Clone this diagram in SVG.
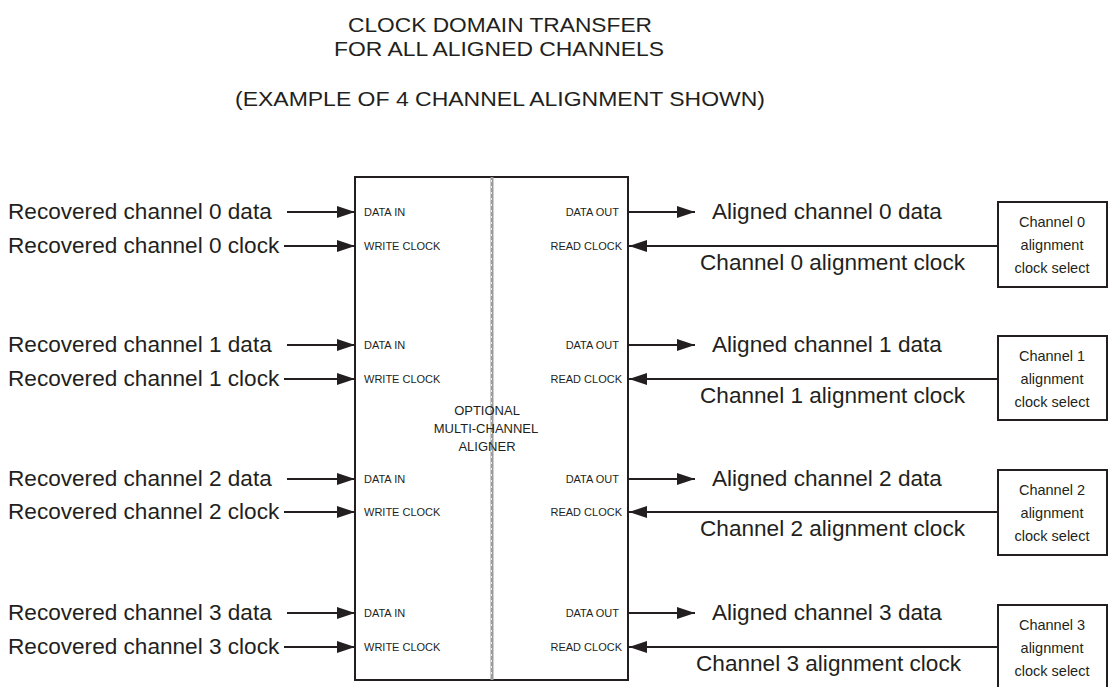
<svg xmlns="http://www.w3.org/2000/svg" width="1108" height="687" viewBox="0 0 1108 687">
<defs>
<style>
text{font-family:"Liberation Sans",Arial,sans-serif;fill:#231f20}
.t{font-size:20px;text-anchor:middle}
.lbl{font-size:22.6px}
.port{font-size:11px}
.sel{font-size:14.5px;text-anchor:middle}
.mid{font-size:13px;text-anchor:middle}
.ln{stroke:#231f20;stroke-width:2;fill:none}
.box{stroke:#231f20;stroke-width:2;fill:#fff}
</style>
<marker id="ah" markerWidth="18" markerHeight="12" refX="18" refY="6" orient="auto" markerUnits="userSpaceOnUse">
<path d="M0,0 L18,6 L0,12 Z" fill="#231f20"/>
</marker>
</defs>
<rect width="1108" height="687" fill="#fff"/>
<g id="title">
<text class="t" x="500" y="32" textLength="304" lengthAdjust="spacingAndGlyphs">CLOCK DOMAIN TRANSFER</text>
<text class="t" x="499" y="56" textLength="330" lengthAdjust="spacingAndGlyphs">FOR ALL ALIGNED CHANNELS</text>
<text class="t" x="500" y="106" textLength="530" lengthAdjust="spacingAndGlyphs">(EXAMPLE OF 4 CHANNEL ALIGNMENT SHOWN)</text>
</g>
<g id="aligner">
<rect class="box" x="355" y="177" width="273" height="503"/>
<line x1="492" y1="177" x2="492" y2="680" stroke="#9b9b9b" stroke-width="3"/>
<line x1="491.5" y1="180" x2="491.5" y2="678" stroke="#fff" stroke-width="0.8" stroke-dasharray="2 4"/>
<text class="mid" x="487" y="415">OPTIONAL</text>
<text class="mid" x="486" y="433">MULTI-CHANNEL</text>
<text class="mid" x="487" y="451">ALIGNER</text>
<g class="port">
<text x="364" y="216">DATA IN</text><text x="364" y="250">WRITE CLOCK</text>
<text x="619" y="216" text-anchor="end">DATA OUT</text><text x="622" y="250" text-anchor="end">READ CLOCK</text>
<text x="364" y="349">DATA IN</text><text x="364" y="383">WRITE CLOCK</text>
<text x="619" y="349" text-anchor="end">DATA OUT</text><text x="622" y="383" text-anchor="end">READ CLOCK</text>
<text x="364" y="483">DATA IN</text><text x="364" y="516">WRITE CLOCK</text>
<text x="619" y="483" text-anchor="end">DATA OUT</text><text x="622" y="516" text-anchor="end">READ CLOCK</text>
<text x="364" y="617">DATA IN</text><text x="364" y="651">WRITE CLOCK</text>
<text x="619" y="617" text-anchor="end">DATA OUT</text><text x="622" y="651" text-anchor="end">READ CLOCK</text>
</g>
</g>
<g id="sel0"><rect class="box" x="998" y="202" width="109" height="85"/>
<text class="sel" x="1052" y="227">Channel 0</text><text class="sel" x="1052" y="250">alignment</text><text class="sel" x="1052" y="273">clock select</text></g>
<g id="sel1"><rect class="box" x="998" y="336" width="109" height="84"/>
<text class="sel" x="1052" y="361">Channel 1</text><text class="sel" x="1052" y="384">alignment</text><text class="sel" x="1052" y="407">clock select</text></g>
<g id="sel2"><rect class="box" x="998" y="470" width="109" height="85"/>
<text class="sel" x="1052" y="495">Channel 2</text><text class="sel" x="1052" y="518">alignment</text><text class="sel" x="1052" y="541">clock select</text></g>
<g id="sel3"><rect class="box" x="998" y="605" width="109" height="90"/>
<text class="sel" x="1052" y="630">Channel 3</text><text class="sel" x="1052" y="653">alignment</text><text class="sel" x="1052" y="676">clock select</text></g>
<g id="labels" class="lbl">
<text x="8" y="219">Recovered channel 0 data</text>
<text x="8" y="253">Recovered channel 0 clock</text>
<text x="712" y="219">Aligned channel 0 data</text>
<text x="700" y="270">Channel 0 alignment clock</text>
<text x="8" y="352">Recovered channel 1 data</text>
<text x="8" y="386">Recovered channel 1 clock</text>
<text x="712" y="352">Aligned channel 1 data</text>
<text x="700" y="403">Channel 1 alignment clock</text>
<text x="8" y="486">Recovered channel 2 data</text>
<text x="8" y="519">Recovered channel 2 clock</text>
<text x="712" y="486">Aligned channel 2 data</text>
<text x="700" y="536">Channel 2 alignment clock</text>
<text x="8" y="620">Recovered channel 3 data</text>
<text x="8" y="654">Recovered channel 3 clock</text>
<text x="712" y="620">Aligned channel 3 data</text>
<text x="696" y="671">Channel 3 alignment clock</text>
</g>
<g id="connectors" class="ln" marker-end="url(#ah)">
<line x1="287" y1="212" x2="355" y2="212"/>
<line x1="284" y1="246" x2="355" y2="246"/>
<line x1="628" y1="212" x2="695" y2="212"/>
<line x1="998" y1="246" x2="629" y2="246"/>
<line x1="287" y1="345" x2="355" y2="345"/>
<line x1="284" y1="379" x2="355" y2="379"/>
<line x1="628" y1="345" x2="695" y2="345"/>
<line x1="998" y1="379" x2="629" y2="379"/>
<line x1="287" y1="479" x2="355" y2="479"/>
<line x1="284" y1="512" x2="355" y2="512"/>
<line x1="628" y1="479" x2="695" y2="479"/>
<line x1="998" y1="512" x2="629" y2="512"/>
<line x1="287" y1="613" x2="355" y2="613"/>
<line x1="284" y1="647" x2="355" y2="647"/>
<line x1="628" y1="613" x2="695" y2="613"/>
<line x1="998" y1="647" x2="629" y2="647"/>
</g>
</svg>
